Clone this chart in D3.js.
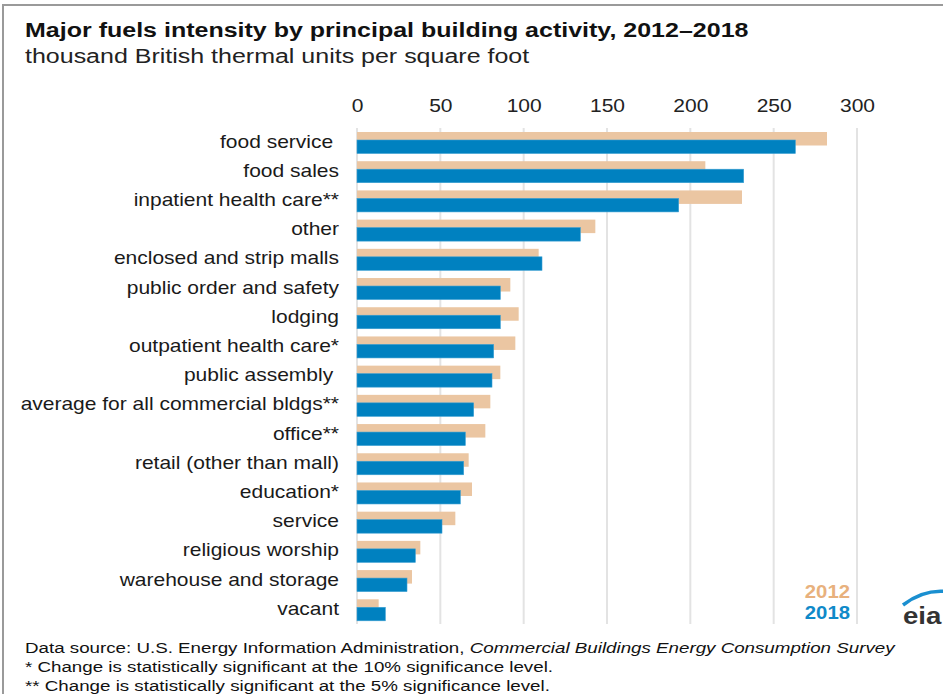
<!DOCTYPE html>
<html>
<head>
<meta charset="utf-8">
<script src="https://cdn.jsdelivr.net/npm/d3@7"></script>
<style>
  body { margin: 0; background: #fff; }
  svg { display: block; font-family: "Liberation Sans", Arial, sans-serif; }
</style>
</head>
<body>
<div id="chart"></div>
<script>
// Building activities, top to bottom
const activities = [
    "food service ", "food sales", "inpatient health care**", "other",
    "enclosed and strip malls", "public order and safety", "lodging",
    "outpatient health care*", "public assembly ", "average for all commercial bldgs**",
    "office**", "retail (other than mall)", "education*", "service",
    "religious worship", "warehouse and storage", "vacant"
];
const values2012 = [282, 209, 231, 143, 109, 92, 97, 95, 86, 80, 77, 67, 69, 59, 38, 33, 13];
const values2018 = [263, 232, 193, 134, 111, 86, 86, 82, 81, 70, 65, 64, 62, 51, 35, 30, 17];
const xTicks = [0, 50, 100, 150, 200, 250, 300];
const seriesNames = ["2012", "2018"];

const width = 943, height = 694;
const svg = d3.select("#chart").append("svg")
    .attr("width", width)
    .attr("height", height);

// the source picture is stretched sideways, so text gets a horizontal scale
function stretch(sel, sx) {
    sel.each(function () {
        const t = d3.select(this);
        const tx = +t.attr("x") || 0, ty = +t.attr("y") || 0;
        t.attr("x", 0).attr("y", 0)
            .attr("transform", `translate(${tx},${ty}) scale(${sx},1)`);
    });
}

// frame
svg.append("path")
    .attr("d", `M3,${height} V5 H${width}`)
    .attr("fill", "none")
    .attr("stroke", "#9a9a9a")
    .attr("stroke-width", 2);

// Title block
svg.append("text").attr("x", 25).attr("y", 37)
    .attr("font-size", 20.5).attr("font-weight", "bold").attr("fill", "#111")
    .text("Major fuels intensity by principal building activity, 2012\u20132018")
    .call(stretch, 1.22);
svg.append("text").attr("x", 25).attr("y", 63)
    .attr("font-size", 20).attr("fill", "#222")
    .text("thousand British thermal units per square foot")
    .call(stretch, 1.25);

const x = d3.scaleLinear().domain([0, 300]).range([357, 857]);
const y = d3.scaleBand().domain(activities).range([128, 624.5]).paddingInner(0);

// gridlines
svg.append("g").selectAll("line").data(xTicks).join("line")
    .attr("x1", d => x(d)).attr("x2", d => x(d))
    .attr("y1", 128).attr("y2", 624)
    .attr("stroke", "#e3e3e3").attr("stroke-width", 2);

// top axis labels
const axis = svg.append("g").attr("transform", "translate(0,112)")
    .call(d3.axisTop(x).tickValues(xTicks).tickSize(0).tickPadding(0));
axis.select(".domain").remove();
axis.selectAll("text")
    .attr("font-size", 17.5).attr("fill", "#222")
    .attr("font-family", "Liberation Sans, Arial, sans-serif")
    .attr("transform", "scale(1.2,1)");

const barH = 13.5;
// 2012 bars
svg.append("g").selectAll("rect").data(activities).join("rect")
    .attr("x", x(0))
    .attr("y", d => y(d) + 4)
    .attr("width", (d, i) => x(values2012[i]) - x(0))
    .attr("height", barH)
    .attr("fill", "#ebc6a2");

// 2018 bars
svg.append("g").selectAll("rect").data(activities).join("rect")
    .attr("x", x(0))
    .attr("y", d => y(d) + 12)
    .attr("width", (d, i) => x(values2018[i]) - x(0))
    .attr("height", barH)
    .attr("fill", "#0081c0")
    .attr("stroke", "#3a9fd2")
    .attr("stroke-width", 0.6);

// category labels
svg.append("g").selectAll("text").data(activities).join("text")
    .attr("x", 339)
    .attr("y", d => y(d) + 19.5)
    .attr("text-anchor", "end")
    .attr("font-size", 17.5)
    .attr("fill", "#1a1a1a")
    .style("white-space", "pre")
    .text(d => d)
    .call(stretch, 1.2);

// legend
const legendColors = ["#e8b17d", "#0f8ac9"];
svg.append("g").selectAll("text").data(seriesNames).join("text")
    .attr("x", 850)
    .attr("y", (d, i) => 598 + i * 21)
    .attr("text-anchor", "end")
    .attr("font-size", 18)
    .attr("font-weight", "bold")
    .attr("fill", (d, i) => legendColors[i])
    .text(d => d)
    .call(stretch, 1.13);

// eia logo (clipped at right edge)
svg.append("path")
    .attr("d", "M903,605 Q925,588 950,592")
    .attr("fill", "none").attr("stroke", "#1a8fd0").attr("stroke-width", 3.5);
svg.append("text").attr("x", 903).attr("y", 624)
    .attr("font-size", 24).attr("font-weight", "bold").attr("fill", "#333")
    .text("eia")
    .call(stretch, 1.15);

// footer
const foot = svg.append("g").attr("font-size", 15.5).attr("fill", "#111");
const src = foot.append("text").attr("x", 25).attr("y", 653);
src.append("tspan").text("Data source: U.S. Energy Information Administration, ");
src.append("tspan").attr("font-style", "italic").text("Commercial Buildings Energy Consumption Survey");
foot.append("text").attr("x", 25).attr("y", 672)
    .text("* Change is statistically significant at the 10% significance level.");
foot.append("text").attr("x", 25).attr("y", 691)
    .text("** Change is statistically significant at the 5% significance level.");
foot.selectAll("text").call(stretch, 1.21);
</script>
</body>
</html>
